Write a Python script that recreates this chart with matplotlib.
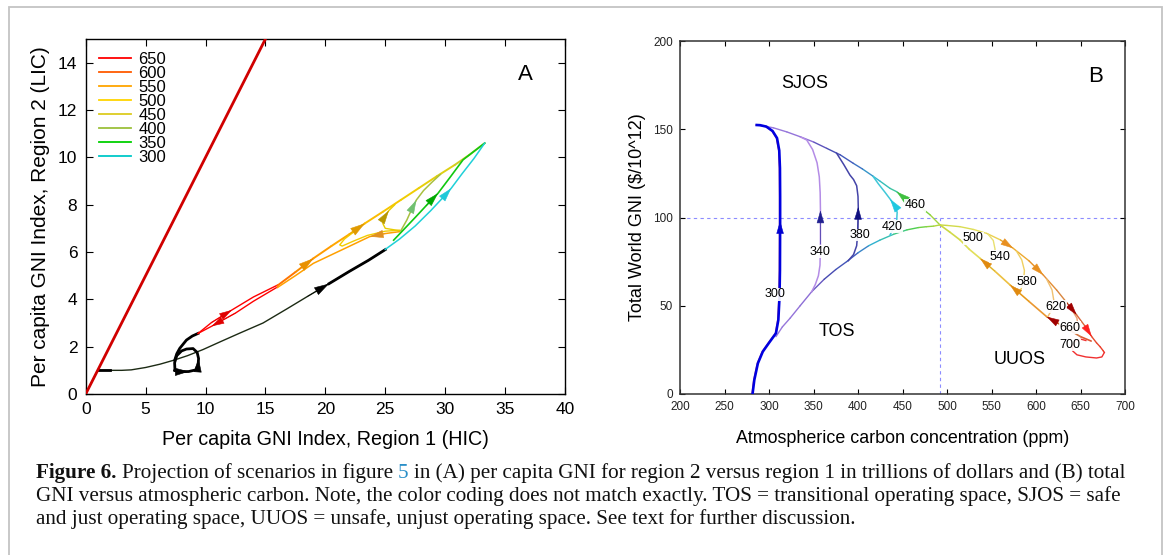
import numpy as np
import matplotlib
matplotlib.use('Agg')
import matplotlib.pyplot as plt
from matplotlib.collections import LineCollection
from matplotlib.colors import LinearSegmentedColormap, Normalize
from matplotlib.lines import Line2D
from matplotlib.patches import Rectangle

plt.rcParams['font.family'] = ['Liberation Sans', 'DejaVu Sans']

# ---------------- panel A : per capita GNI, region 1 vs region 2 ----------------
diag_x = [0, 15]
diag_y = [0, 15]

base_x = [1.0, 2.0, 3.0, 3.8, 5.0, 6.2, 7.3, 8.5, 9.8, 11.2, 12.8, 14.8, 16.8, 18.5, 20.3, 22.0, 23.6, 25.0]
base_y = [1.0, 1.0, 1.0, 1.02, 1.12, 1.26, 1.42, 1.62, 1.88, 2.2, 2.56, 3.0, 3.6, 4.12, 4.66, 5.18, 5.65, 6.1]

loop_x = [7.45, 7.85, 8.6, 9.2, 9.38, 9.42, 9.3, 8.96, 8.41, 8.0, 7.6, 7.42, 7.45]
loop_y = [1.0, 0.94, 0.95, 1.02, 1.22, 1.5, 1.76, 1.92, 1.9, 1.82, 1.62, 1.32, 1.0]
hook_x = [7.43, 7.6, 7.85, 8.41, 8.9, 9.38]
hook_y = [1.43, 1.7, 1.93, 2.28, 2.45, 2.56]

red_up_x = [9.38, 10.5, 12.2, 14.0, 16.0]
red_up_y = [2.56, 3.02, 3.55, 4.1, 4.6]
red_lo_x = [16.0, 14.0, 12.5, 10.5, 9.38]
red_lo_y = [4.52, 3.92, 3.42, 2.86, 2.56]

top_x = [16.0, 17.5, 19.0, 20.5, 22.0, 23.3, 24.8, 26.3, 27.8, 29.3, 30.8, 32.0, 33.3]
top_y = [4.58, 5.15, 5.73, 6.25, 6.75, 7.21, 7.7, 8.2, 8.7, 9.2, 9.68, 10.1, 10.6]
low_x = [26.2, 25.0, 23.7, 22.0, 20.5, 19.0, 17.5, 16.0]
low_y = [6.86, 6.78, 6.65, 6.24, 5.88, 5.52, 5.0, 4.5]
dip_x = [26.2, 25.0, 23.5, 22.3, 21.4, 21.2, 21.6, 22.4]
dip_y = [6.92, 6.88, 6.7, 6.45, 6.25, 6.3, 6.55, 6.86]
yl_x = [26.2, 25.6, 25.0, 24.8, 24.9, 25.3, 25.8]
yl_y = [6.9, 6.95, 7.0, 7.2, 7.45, 7.75, 8.0]
ol_x = [26.3, 26.8, 27.2, 27.6, 28.2, 28.9, 29.6]
ol_y = [6.9, 7.35, 7.8, 8.2, 8.6, 8.95, 9.28]
gr_x = [25.7, 26.6, 27.5, 28.4, 29.4, 30.4, 31.5, 32.4, 33.3]
gr_y = [6.5, 6.98, 7.46, 7.95, 8.48, 9.15, 9.9, 10.25, 10.6]
cy_x = [25.0, 26.2, 27.5, 28.8, 30.0, 30.5, 31.4, 32.4, 33.3]
cy_y = [6.11, 6.55, 7.1, 7.75, 8.4, 8.69, 9.3, 9.95, 10.6]

legend_labels = ['650', '600', '550', '500', '450', '400', '350', '300']
legend_colors = ['#ff0000', '#ff5a00', '#ffa500', '#ffd400', '#dccc20', '#9cc03c', '#00d000', '#00c8c8']

# ---------------- panel B : total GNI vs atmospheric carbon ----------------
b300_x = [281.5, 283.5, 287.5, 293, 300, 307.8, 310.5, 311.8, 312.3, 312.5, 312.5, 312.3, 311.5, 309, 304, 297, 290, 286.2]
b300_y = [0, 8, 17.4, 24, 29, 34.4, 42, 55, 70, 98, 112, 128, 138, 145, 149, 151.5, 152.3, 152.4]

tos_x = [307.8, 315, 323.6, 335, 348, 362, 375, 387.3, 400, 412, 424.7, 440, 455, 468, 477.2, 485, 492.1]
tos_y = [32.5, 38, 42.9, 50, 58, 65, 70.5, 75, 80, 84, 87.2, 90.5, 93, 94.3, 94.8, 95.1, 95.8]

sjos_x = [492.1, 481, 470, 454.7, 443.5, 436, 425, 416.6, 405, 394.7, 380, 364.8, 350, 334.8, 320, 305, 295, 286.2]
sjos_y = [95.8, 101.5, 106, 109.9, 114.6, 116.5, 120.5, 123.5, 127.5, 130.7, 135.5, 139.2, 142.8, 145.8, 148.5, 150.8, 151.8, 152.4]

b340_x = [348, 352, 355.5, 357.3, 357.8, 357.8, 357.5, 356.5, 354, 349, 342.4, 336]
b340_y = [58, 62, 67, 73, 85, 104, 114, 123, 131, 138.5, 143.9, 145.5]
b380_x = [389, 395, 398.5, 399.8, 400.3, 400, 398.5, 395, 391, 384, 376]
b380_y = [75.5, 79, 84, 92, 106, 112, 118, 121.5, 124, 130, 136.4]
b420_x = [436, 440, 443.5, 444, 441, 436, 430, 423, 417.2]
b420_y = [90.1, 94, 98.6, 103, 107, 110.5, 114.5, 119, 123.1]

out_x = [492.1, 500, 514.6, 530, 544.6, 560, 574.5, 592, 608.2, 623.2, 635, 645.7, 655, 662.6, 668, 672, 675.5, 676.8]
out_y = [95.8, 95.5, 94.8, 93.2, 91, 87.3, 82.5, 75.5, 67.4, 58.9, 51.5, 44.8, 38.5, 32.5, 29, 26.8, 24.5, 23.5]
end_x = [676.8, 674, 668, 656, 646, 641, 641.5, 645, 651, 656]
end_y = [23.5, 21.0, 20.4, 21.0, 22.2, 24.5, 28, 30.2, 31, 30.3]
in_x = [662, 650, 638.2, 625, 612, 592, 570.8, 554, 537.1, 525, 514.6, 503, 492.1]
in_y = [30, 32.5, 36, 40, 43.8, 52.5, 61.8, 69.5, 76.9, 82, 87.3, 91.8, 95.8]

br_x = [[546, 552, 554, 552, 547], [578, 584, 587, 586, 582], [612, 618, 620, 618, 613], [640, 646, 647, 644, 638]]
br_y = [[90.6, 87, 82, 77.5, 73.5], [81, 76, 70, 64, 57.5], [65, 59, 53, 48, 43.6], [48, 43, 39, 37, 36]]
br_colors = ['#e8e070', '#f0d060', '#f0c070', '#eaa070']

scen_labels = ['300', '340', '380', '420', '460', '500', '540', '580', '620', '660', '700']
scen_x = [307, 357, 402.5, 438.8, 464.3, 529.6, 559.8, 590, 622.2, 638.4, 638.4]
scen_y = [56.5, 80.6, 90.1, 94.8, 107, 88.2, 77.8, 63.6, 49.5, 37.6, 27.8]

region_labels = ['SJOS', 'TOS', 'UUOS']
region_x = [340, 376.3, 582]
region_y = [176, 35.3, 19.3]

carbon_limit = 492
gni_floor = 100


def colored(ax, xs, ys, cmap, norm, lw, z=2):
    pts = np.column_stack([xs, ys])
    segs = np.stack([pts[:-1], pts[1:]], axis=1)
    mids = (np.asarray(xs[:-1], float) + np.asarray(xs[1:], float)) / 2
    lc = LineCollection(segs, colors=cmap(norm(mids)), linewidths=lw,
                        capstyle='round', joinstyle='round', zorder=z)
    ax.add_collection(lc)


def arrow(ax, xs, ys, i, color, size=11):
    ax.annotate('', xy=(xs[i], ys[i]), xytext=(xs[i - 1], ys[i - 1]),
                arrowprops=dict(arrowstyle='-|>,head_length=0.75,head_width=0.22',
                                color=color, lw=0.4, shrinkA=0, shrinkB=0,
                                mutation_scale=size), zorder=4)


fig = plt.figure(figsize=(11.69, 5.55), dpi=100)
fig.patch.set_facecolor('white')

# outer frame of the figure block
fig.add_artist(Rectangle((9 / 1169, -0.02), 1153 / 1169, 1 - 7 / 555 + 0.02,
                         transform=fig.transFigure, fill=False,
                         edgecolor='#c4c4c4', lw=1.3))

# ---------------- panel A ----------------
axA = fig.add_axes([85.7 / 1169, 161 / 555, 479.3 / 1169, 355 / 555])
axA.plot(diag_x, diag_y, color='#d00000', lw=2.0, zorder=3)
axA.plot(base_x, base_y, color='#1c2a14', lw=1.0)
axA.plot(base_x[:2], base_y[:2], color='black', lw=2.0)
axA.plot(base_x[14:], base_y[14:], color='black', lw=2.0)
arrow(axA, base_x, base_y, 14, 'black', 13)
axA.plot(loop_x, loop_y, color='black', lw=2.0)
axA.plot(hook_x, hook_y, color='black', lw=2.0)
arrow(axA, loop_x, loop_y, 2, 'black', 12)
arrow(axA, loop_x, loop_y, 5, 'black', 12)

axA.plot(red_up_x, red_up_y, color='#ff0000', lw=1.0)
axA.plot(red_lo_x, red_lo_y, color='#ff0000', lw=1.0)
arrow(axA, red_up_x, red_up_y, 2, '#e00000', 11)
arrow(axA, red_lo_x, red_lo_y, 3, '#e00000', 11)

cmapA = LinearSegmentedColormap.from_list('a', ['#ff6a00', '#ff9a00', '#ffb400', '#f4cc00', '#e0d010', '#b8c840'])
normA = Normalize(16, 33.3)
colored(axA, top_x, top_y, cmapA, normA, 1.4)
axA.plot(low_x, low_y, color='#ffa000', lw=1.1)
axA.plot(dip_x, dip_y, color='#f2cc00', lw=1.0)
axA.plot(yl_x, yl_y, color='#e8cc00', lw=1.0)
axA.plot(ol_x, ol_y, color='#a8c040', lw=1.1)
axA.plot(gr_x, gr_y, color='#10c810', lw=1.2)
axA.plot(cy_x, cy_y, color='#20d0d8', lw=1.1)
arrow(axA, top_x, top_y, 2, '#e89000', 13)
arrow(axA, top_x, top_y, 5, '#e09a00', 13)
arrow(axA, low_x, low_y, 2, '#e09020', 12)
arrow(axA, yl_x, yl_y, 5, '#b89800', 12)
arrow(axA, ol_x, ol_y, 3, '#70c070', 12)
arrow(axA, gr_x, gr_y, 4, '#00a800', 12)
arrow(axA, cy_x, cy_y, 5, '#20c8d8', 12)

axA.set_xlim(0, 40)
axA.set_ylim(0, 15)
axA.set_xticks(range(0, 41, 5))
axA.set_yticks(range(0, 15, 2))
axA.tick_params(direction='in', top=True, right=True, length=5, width=0.8,
                labelsize=12.5, pad=6)
for s in axA.spines.values():
    s.set_linewidth(1.0)
axA.set_xlabel('Per capita GNI Index, Region 1 (HIC)', fontsize=14.2, labelpad=9)
axA.set_ylabel('Per capita GNI Index, Region 2 (LIC)', fontsize=15, labelpad=6)
axA.text(36.7, 13.5, 'A', fontsize=16, ha='center', va='center')

handles = [Line2D([], [], color=c, lw=1.3) for c in legend_colors]
axA.legend(handles, legend_labels, loc='upper left', frameon=False, fontsize=12,
           handlelength=1.9, handletextpad=0.45, labelspacing=-0.06,
           borderaxespad=0.3, borderpad=0.5)

# ---------------- panel B ----------------
axB = fig.add_axes([680 / 1169, 161 / 555, 445 / 1169, 353 / 555])
cmapB = LinearSegmentedColormap.from_list('b', [
    (0.0, '#a080e0'), ((340 - 280) / 420, '#9070d8'), ((365 - 280) / 420, '#4848b0'),
    ((395 - 280) / 420, '#4060c0'), ((420 - 280) / 420, '#30b8d0'), ((445 - 280) / 420, '#40c890'),
    ((465 - 280) / 420, '#50d040'), ((495 - 280) / 420, '#c8d840'), ((540 - 280) / 420, '#e8e060'),
    ((575 - 280) / 420, '#f0b030'), ((610 - 280) / 420, '#e89030'), ((640 - 280) / 420, '#d08048'),
    ((660 - 280) / 420, '#e05030'), (1.0, '#ff2020')])
normB = Normalize(280, 700)

axB.axhline(gni_floor, color='#8c8cff', ls=(0, (3, 3)), lw=0.8, zorder=1)
axB.vlines(carbon_limit, 0, gni_floor, color='#8c8cff', linestyles=(0, (3, 3)), lw=0.8, zorder=1)

axB.plot(np.asarray(b300_x) - 0.8, b300_y, color='#f06060', lw=0.8, zorder=2)
axB.plot(b300_x, b300_y, color='#0000e0', lw=1.9, zorder=3)
arrow(axB, b300_x, b300_y, 9, '#0000d0', 11)

colored(axB, tos_x, tos_y, cmapB, normB, 1.0)
colored(axB, sjos_x, sjos_y, cmapB, normB, 1.0)
axB.plot(b340_x, b340_y, color='#b48ce6', lw=1.1, zorder=2)
axB.plot(b380_x, b380_y, color='#4444a8', lw=1.1, zorder=2)
axB.plot(b420_x, b420_y, color='#40c8d8', lw=1.1, zorder=2)
arrow(axB, b340_x, b340_y, 5, '#202090', 11)
arrow(axB, b380_x, b380_y, 4, '#101080', 11)
arrow(axB, b420_x, b420_y, 5, '#20c8e0', 12)
arrow(axB, sjos_x, sjos_y, 4, '#40c040', 12)

colored(axB, out_x, out_y, cmapB, normB, 1.0)
colored(axB, in_x, in_y, cmapB, normB, 1.2)
axB.plot(end_x, end_y, color='#f03030', lw=1.0, zorder=2)
for bx, by, bc in zip(br_x, br_y, br_colors):
    axB.plot(bx, by, color=bc, lw=1.0, zorder=2)
arrow(axB, out_x, out_y, 6, '#e89020', 11)
arrow(axB, out_x, out_y, 8, '#e89020', 11)
arrow(axB, out_x, out_y, 11, '#a00000', 11)
arrow(axB, out_x, out_y, 13, '#ff2020', 11)
arrow(axB, in_x, in_y, 8, '#e08a10', 11)
arrow(axB, in_x, in_y, 6, '#e08a10', 11)
arrow(axB, in_x, in_y, 4, '#a00000', 11)

for lab, x, y in zip(scen_labels, scen_x, scen_y):
    axB.text(x, y, lab, fontsize=9, ha='center', va='center', zorder=5,
             bbox=dict(facecolor='white', edgecolor='none', pad=0.3, alpha=0.9))
for lab, x, y in zip(region_labels, region_x, region_y):
    axB.text(x, y, lab, fontsize=13, ha='center', va='center')
axB.text(666.6, 180, 'B', fontsize=16, ha='center', va='center')

axB.set_xlim(200, 700)
axB.set_ylim(0, 200)
axB.set_xticks(range(200, 701, 50))
axB.set_yticks(range(0, 201, 50))
axB.tick_params(direction='in', top=True, right=True, length=3.5, width=0.8,
                labelsize=8.5, labelcolor='#222222', pad=5)
for s in axB.spines.values():
    s.set_linewidth(1.1)
    s.set_color('#333333')
axB.set_xlabel('Atmospherice carbon concentration (ppm)', fontsize=12.9, labelpad=12)
axB.set_ylabel('Total World GNI ($/10^12)', fontsize=13, labelpad=5)

# ---------------- caption ----------------
capax = fig.add_axes([0, 0, 1, 1])
capax.axis('off')
capax.set_xlim(0, 1169)
capax.set_ylim(555, 0)
cap_font = dict(family=['Liberation Serif', 'DejaVu Serif'], fontsize=15.2, color='#111111')
word_gap = 5.2


def chain(prev, s, **kw):
    opts = dict(cap_font)
    opts.update(kw)
    return capax.annotate(s, xy=(1, 0), xycoords=prev, xytext=(word_gap, 0),
                          textcoords='offset pixels', ha='left', va='bottom', **opts)


t = capax.text(36, 483, 'Figure 6.', fontweight='bold', ha='left', va='bottom', **cap_font)
t = chain(t, 'Projection of scenarios in figure')
t = chain(t, '5', color='#2a8fc8')
t = chain(t, 'in (A) per capita GNI for region 2 versus region 1 in trillions of dollars and (B) total')
capax.text(36, 506, 'GNI versus atmospheric carbon. Note, the color coding does not match exactly. '
           'TOS = transitional operating space, SJOS = safe', ha='left', va='bottom', **cap_font)
capax.text(36, 529, 'and just operating space, UUOS = unsafe, unjust operating space. '
           'See text for further discussion.', ha='left', va='bottom', **cap_font)

fig.savefig('out.png', dpi=100)
